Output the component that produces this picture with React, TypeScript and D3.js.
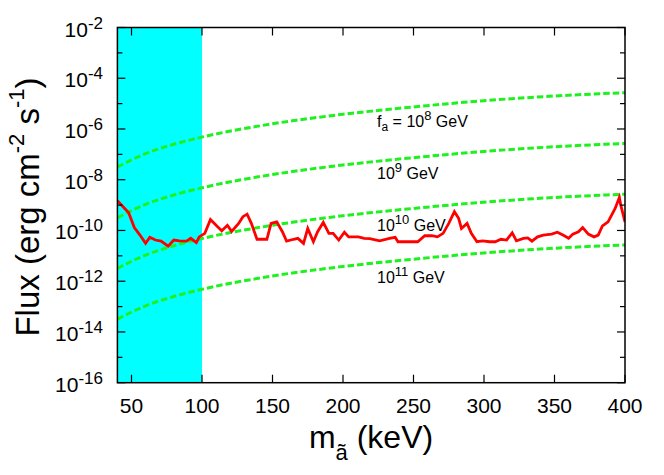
import React from 'react';
import * as d3 from 'd3';

// ---------- data ----------
const massDomain = [40, 400];
const fluxDomain = [1e-16, 1e-2];
const xTickValues = [50, 100, 150, 200, 250, 300, 350, 400];
const yExponents = [-16, -15, -14, -13, -12, -11, -10, -9, -8, -7, -6, -5, -4, -3, -2];
const excludedBand = [40, 100];

const curveMass = [40, 60, 80, 100, 150, 200, 250, 300, 350, 400];
const fa1e8 = [3.2e-8, 1.07e-7, 2.5e-7, 4.8e-7, 1.6e-6, 3.8e-6, 7.4e-6, 1.3e-5, 2.0e-5, 2.7e-5];
const fa1e9 = [3.2e-10, 1.07e-9, 2.5e-9, 4.8e-9, 1.6e-8, 3.8e-8, 7.4e-8, 1.3e-7, 2.0e-7, 2.7e-7];
const fa1e10 = [3.2e-12, 1.07e-11, 2.5e-11, 4.8e-11, 1.6e-10, 3.8e-10, 7.4e-10, 1.3e-9, 2.0e-9, 2.7e-9];
const fa1e11 = [3.2e-14, 1.07e-13, 2.5e-13, 4.8e-13, 1.6e-12, 3.8e-12, 7.4e-12, 1.3e-11, 2.0e-11, 2.7e-11];
const curveLabels = ['8', '9', '10', '11'];

const limitMass = [
  40, 48, 52, 56, 60, 63, 67, 71, 76, 80, 84, 89, 92, 96, 98, 102, 106, 110, 114, 118, 121, 126, 129, 132,
  135, 139, 146, 149, 153, 157, 160, 165, 168, 172, 175, 179, 182, 186, 190, 193, 197, 201, 204, 211, 215,
  219, 226, 233, 237, 239, 246, 253, 258, 263, 267, 271, 275, 279, 282, 284, 288, 291, 295, 299, 304, 308,
  312, 316, 320, 323, 328, 331, 334, 338, 342, 348, 352, 356, 360, 363, 367, 370, 374, 378, 381, 384, 388,
  393, 396, 397, 400,
];
const limitFlux = [
  1.5e-9, 5.0e-10, 1.3e-10, 6.6e-11, 3.1e-11, 5.4e-11, 4.2e-11, 3.8e-11, 2.4e-11, 4.2e-11, 3.9e-11, 3.8e-11,
  4.9e-11, 3.3e-11, 5.6e-11, 7.7e-11, 2.7e-10, 1.6e-10, 9.8e-11, 1.6e-10, 9.2e-11, 1.9e-10, 3.5e-10, 4.4e-10,
  1.9e-10, 4.5e-11, 4.5e-11, 1.9e-10, 2.2e-10, 8.9e-11, 3.8e-11, 4.5e-11, 4.9e-11, 3.1e-11, 1.2e-10, 3.6e-11,
  8.9e-11, 2.1e-10, 7.7e-11, 7.7e-11, 4.2e-11, 8.5e-11, 5.6e-11, 5.6e-11, 4.9e-11, 4.8e-11, 3.9e-11, 4.9e-11,
  5.4e-11, 3.6e-11, 3.6e-11, 3.6e-11, 6.2e-11, 6.2e-11, 5.6e-11, 7.7e-11, 1.9e-10, 5.5e-10, 3.0e-10, 1.2e-10,
  1.9e-10, 7.7e-11, 3.6e-11, 3.9e-11, 3.6e-11, 3.6e-11, 4.5e-11, 4.2e-11, 8.1e-11, 3.9e-11, 4.9e-11, 5.1e-11,
  3.8e-11, 5.6e-11, 6.6e-11, 7.2e-11, 8.5e-11, 6.6e-11, 4.9e-11, 7.2e-11, 8.9e-11, 1.3e-10, 7.2e-11, 5.6e-11,
  6.6e-11, 1.5e-10, 2.2e-10, 7.4e-10, 2.0e-9, 1.0e-9, 2.2e-10,
];

// ---------- layout ----------
const W = 664;
const H = 475;
const plot = { left: 117.4, right: 625, top: 27.5, bottom: 382.7 };
const FONT = "'Liberation Sans', Arial, Helvetica, sans-serif";
const GREEN = '#1ff01f';
const RED = '#ff0000';
const CYAN = '#00ffff';

export default function App() {
  const x = d3.scaleLinear().domain(massDomain).range([plot.left, plot.right]);
  const y = d3.scaleLog().domain(fluxDomain).range([plot.bottom, plot.top]);

  const curveLine = d3
    .line<[number, number]>()
    .x((d) => x(d[0]))
    .y((d) => y(d[1]))
    .curve(d3.curveMonotoneX);
  const limitLine = d3
    .line<[number, number]>()
    .x((d) => x(d[0]))
    .y((d) => y(d[1]));

  const curves = [fa1e8, fa1e9, fa1e10, fa1e11];
  const labelX = 377;
  const labelY = [127, 179, 231, 283];

  return (
    <svg
      width={W}
      height={H}
      style={{ position: 'absolute', left: 0, top: 0, background: '#fff' }}
      fontFamily={FONT}
    >
      <defs>
        <clipPath id="plotclip">
          <rect x={plot.left} y={plot.top} width={plot.right - plot.left} height={plot.bottom - plot.top} />
        </clipPath>
      </defs>
      {/* excluded band */}
      <rect
        x={x(excludedBand[0])}
        y={plot.top}
        width={x(excludedBand[1]) - x(excludedBand[0])}
        height={plot.bottom - plot.top}
        fill={CYAN}
      />
      <g clipPath="url(#plotclip)">
        {curves.map((c, i) => (
          <path
            key={i}
            d={curveLine(curveMass.map((m, j) => [m, c[j]]) as [number, number][]) || ''}
            fill="none"
            stroke={GREEN}
            strokeWidth={3}
            strokeDasharray="6.5,3"
          />
        ))}
        <path
          d={limitLine(limitMass.map((m, j) => [m, limitFlux[j]]) as [number, number][]) || ''}
          fill="none"
          stroke={RED}
          strokeWidth={2.8}
          strokeLinejoin="miter"
        />
      </g>
      {/* curve labels */}
      {curveLabels.map((e, i) => (
        <text key={i} x={labelX} y={labelY[i]} fontSize={16} fill="#000">
          {i === 0 ? (
            <>
              <tspan>f</tspan>
              <tspan fontSize={12} dy={4}>a</tspan>
              <tspan dy={-4}>{' = 10'}</tspan>
            </>
          ) : (
            <tspan>10</tspan>
          )}
          <tspan fontSize={13} dy={-7}>{e}</tspan>
          <tspan dy={7}>{' GeV'}</tspan>
        </text>
      ))}
      {/* ticks */}
      {xTickValues.map((v) => (
        <g key={'xt' + v}>
          <line x1={x(v)} x2={x(v)} y1={plot.bottom} y2={plot.bottom - 8} stroke="#000" strokeWidth={1.2} />
          <line x1={x(v)} x2={x(v)} y1={plot.top} y2={plot.top + 8} stroke="#000" strokeWidth={1.2} />
          <text x={x(v)} y={413} textAnchor="middle" fontSize={21}>
            {v}
          </text>
        </g>
      ))}
      {yExponents.map((e) => {
        const major = e % 2 === 0;
        const len = major ? 8 : 5;
        const yy = y(Math.pow(10, e));
        return (
          <g key={'yt' + e}>
            <line x1={plot.left} x2={plot.left + len} y1={yy} y2={yy} stroke="#000" strokeWidth={1.2} />
            <line x1={plot.right} x2={plot.right - len} y1={yy} y2={yy} stroke="#000" strokeWidth={1.2} />
            {major && (
              <text x={103} y={yy + 9} textAnchor="end" fontSize={21}>
                <tspan>10</tspan>
                <tspan fontSize={17} dy={-8}>{String(e)}</tspan>
              </text>
            )}
          </g>
        );
      })}
      {/* frame */}
      <rect
        x={plot.left}
        y={plot.top}
        width={plot.right - plot.left}
        height={plot.bottom - plot.top}
        fill="none"
        stroke="#000"
        strokeWidth={1.5}
      />
      {/* axis titles */}
      <text x={371} y={448} textAnchor="middle" fontSize={32}>
        <tspan>m</tspan>
        <tspan fontSize={22} dy={12}>ã</tspan>
        <tspan dy={-12}>{' (keV)'}</tspan>
      </text>
      <text transform="translate(39,207) rotate(-90)" textAnchor="middle" fontSize={33}>
        <tspan>Flux (erg cm</tspan>
        <tspan fontSize={22} dy={-15}>-2</tspan>
        <tspan dy={15}>{' s'}</tspan>
        <tspan fontSize={22} dy={-15}>-1</tspan>
        <tspan dy={15}>)</tspan>
      </text>
    </svg>
  );
}
